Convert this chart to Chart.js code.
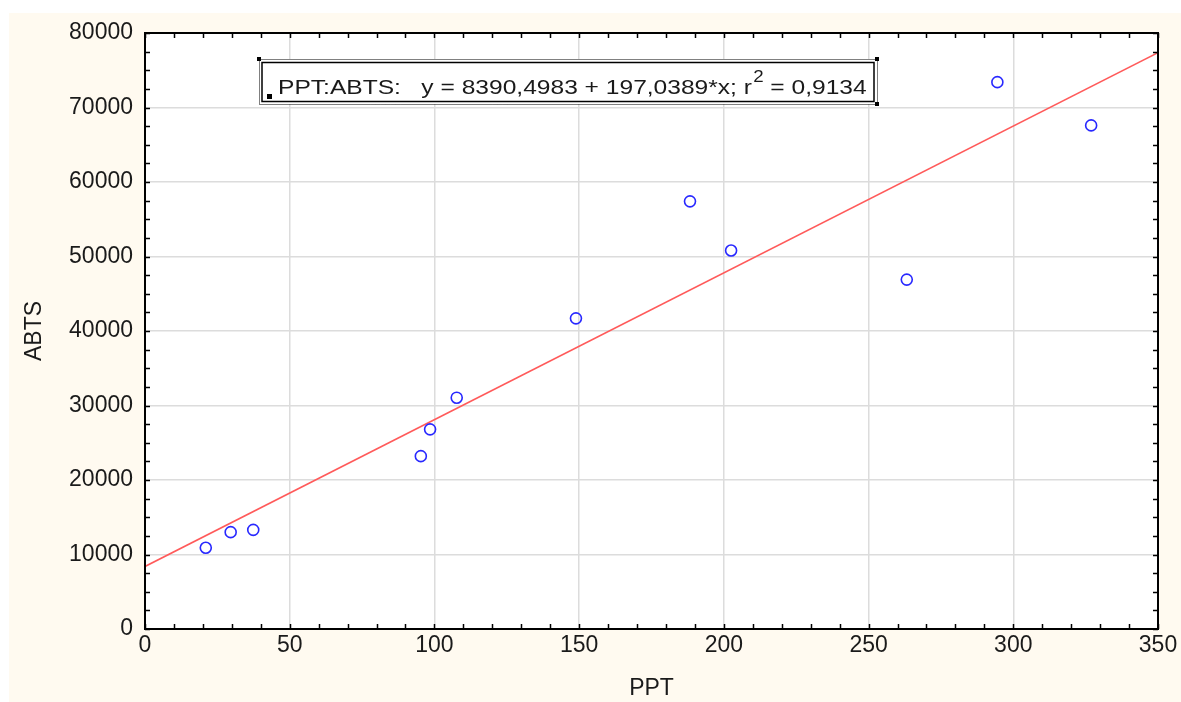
<!DOCTYPE html>
<html>
<head>
<meta charset="utf-8">
<script src="https://cdn.jsdelivr.net/npm/chart.js@4.4.0/dist/chart.umd.min.js"></script>
<style>
  html, body { margin: 0; padding: 0; background: #fff; }
  #wrap { width: 1181px; height: 702px; position: relative; }
</style>
</head>
<body>
<div id="wrap"><canvas id="chart" width="1181" height="702"></canvas></div>
<script>
// Данные
const pptValues = [21, 29.6, 37.4, 95.3, 98.5, 107.7, 148.9, 188.3, 202.5, 263.2, 294.5, 326.9];
const abtsValues = [10900, 13000, 13300, 23200, 26800, 31050, 41700, 57400, 50800, 46900, 73400, 67600];

// Коэффициенты регрессии из подписи
const intercept = 8390.4983;
const slope = 197.0389;
const xRange = [0, 350];

const xTicks = [0, 50, 100, 150, 200, 250, 300, 350];
const yTicks = [0, 10000, 20000, 30000, 40000, 50000, 60000, 70000, 80000];

const FONT = '"Liberation Sans", Arial, sans-serif';

const points = pptValues.map((x, i) => ({ x: x, y: abtsValues[i] }));
const fitLine = xRange.map(x => ({ x: x, y: intercept + slope * x }));

// Фон, рамка, мелкие засечки и подпись уравнения
const decorPlugin = {
    id: 'decor',
    beforeDraw(chart) {
        const ctx = chart.ctx;
        const a = chart.chartArea;
        ctx.save();
        ctx.fillStyle = '#fffaf0';
        ctx.fillRect(9, 13, chart.width - 9, chart.height - 13);
        ctx.fillStyle = '#ffffff';
        ctx.fillRect(a.left, a.top, a.right - a.left, a.bottom - a.top);
        ctx.restore();
    },
    afterDraw(chart) {
        const ctx = chart.ctx;
        const a = chart.chartArea;
        const xs = chart.scales.x;
        const ys = chart.scales.y;
        ctx.save();
        ctx.strokeStyle = '#000';
        ctx.lineWidth = 1.5;
        ctx.beginPath();
        for (let v = 0; v <= 350; v += 10) {
            const px = Math.round(xs.getPixelForValue(v)) + 0.5;
            ctx.moveTo(px, a.bottom); ctx.lineTo(px, a.bottom - 5);
            ctx.moveTo(px, a.top); ctx.lineTo(px, a.top + 5);
        }
        for (let v = 0; v <= 80000; v += 2500) {
            const py = Math.round(ys.getPixelForValue(v)) + 0.5;
            ctx.moveTo(a.left, py); ctx.lineTo(a.left + 5, py);
            ctx.moveTo(a.right, py); ctx.lineTo(a.right - 5, py);
        }
        ctx.stroke();
        ctx.lineWidth = 2;
        ctx.strokeRect(a.left, a.top, a.right - a.left, a.bottom - a.top);

        // Рамка легенды
        const bx = 259, by = 59, bw = 618, bh = 45;
        ctx.fillStyle = '#ffffff';
        ctx.fillRect(bx, by, bw, bh);
        ctx.lineWidth = 1;
        ctx.setLineDash([1, 1]);
        ctx.strokeRect(bx + 0.5, by + 0.5, bw, bh);
        ctx.setLineDash([]);
        ctx.lineWidth = 1.5;
        ctx.strokeRect(bx + 3, by + 3.5, bw - 6, bh - 6);
        ctx.fillStyle = '#000';
        [[bx, by], [bx + bw, by], [bx + bw, by + bh]].forEach(p => ctx.fillRect(p[0] - 2, p[1] - 2, 4, 4));
        ctx.fillRect(bx + 8, by + 35, 5, 5);

        // текст растянут по горизонтали, как в оригинале
        const sx = 1.17;
        const x0 = bx + 19, y0 = by + 35;
        ctx.translate(x0, y0);
        ctx.scale(sx, 1);
        ctx.fillStyle = '#1a1a1a';
        ctx.textBaseline = 'alphabetic';
        ctx.font = '21px ' + FONT;
        const t1 = 'PPT:ABTS:   y = 8390,4983 + 197,0389*x; r';
        ctx.fillText(t1, 0, 0);
        const w = ctx.measureText(t1).width;
        ctx.font = '16px ' + FONT;
        ctx.fillText('2', w + 1, -12);
        const w2 = ctx.measureText('2').width;
        ctx.font = '21px ' + FONT;
        ctx.fillText(' = 0,9134', w + w2 + 1, 0);
        ctx.restore();
    }
};

const ctx = document.getElementById('chart').getContext('2d');
const myChart = new Chart(ctx, {
    type: 'scatter',
    data: {
        datasets: [{
            label: 'PPT:ABTS',
            data: points,
            pointStyle: 'circle',
            pointRadius: 5.5,
            pointBorderWidth: 1.6,
            pointBorderColor: '#2828ff',
            pointBackgroundColor: 'rgba(0,0,0,0)',
            showLine: false,
            order: 1
        }, {
            label: 'fit',
            type: 'line',
            data: fitLine,
            borderColor: '#ff5a5a',
            borderWidth: 1.6,
            pointRadius: 0,
            fill: false,
            order: 2
        }]
    },
    options: {
        responsive: false,
        animation: false,
        layout: { padding: { top: 33, right: 23, left: 0, bottom: 0 } },
        plugins: { legend: { display: false }, tooltip: { enabled: false } },
        scales: {
            x: {
                type: 'linear',
                min: 0, max: 350,
                afterBuildTicks: s => { s.ticks = xTicks.map(v => ({ value: v })); },
                afterFit: s => { s.height = 73; },
                grid: { color: '#dcdcdc', lineWidth: 1.5, drawTicks: false },
                border: { display: false },
                ticks: { color: '#1a1a1a', font: { family: FONT, size: 23 }, padding: 3, maxRotation: 0 },
                title: { display: true, text: 'PPT', color: '#1a1a1a', font: { family: FONT, size: 23 }, padding: { top: 5, bottom: 0 } }
            },
            y: {
                min: 0, max: 80000,
                afterBuildTicks: s => { s.ticks = yTicks.map(v => ({ value: v })); },
                afterFit: s => { s.width = 145; },
                grid: { color: '#dcdcdc', lineWidth: 1.5, drawTicks: false },
                border: { display: false },
                ticks: { color: '#1a1a1a', font: { family: FONT, size: 23 }, padding: 12, callback: v => String(v) },
                title: { display: true, text: 'ABTS', color: '#1a1a1a', font: { family: FONT, size: 23 }, padding: { top: 21, bottom: 0 } }
            }
        }
    },
    plugins: [decorPlugin]
});
</script>
</body>
</html>
